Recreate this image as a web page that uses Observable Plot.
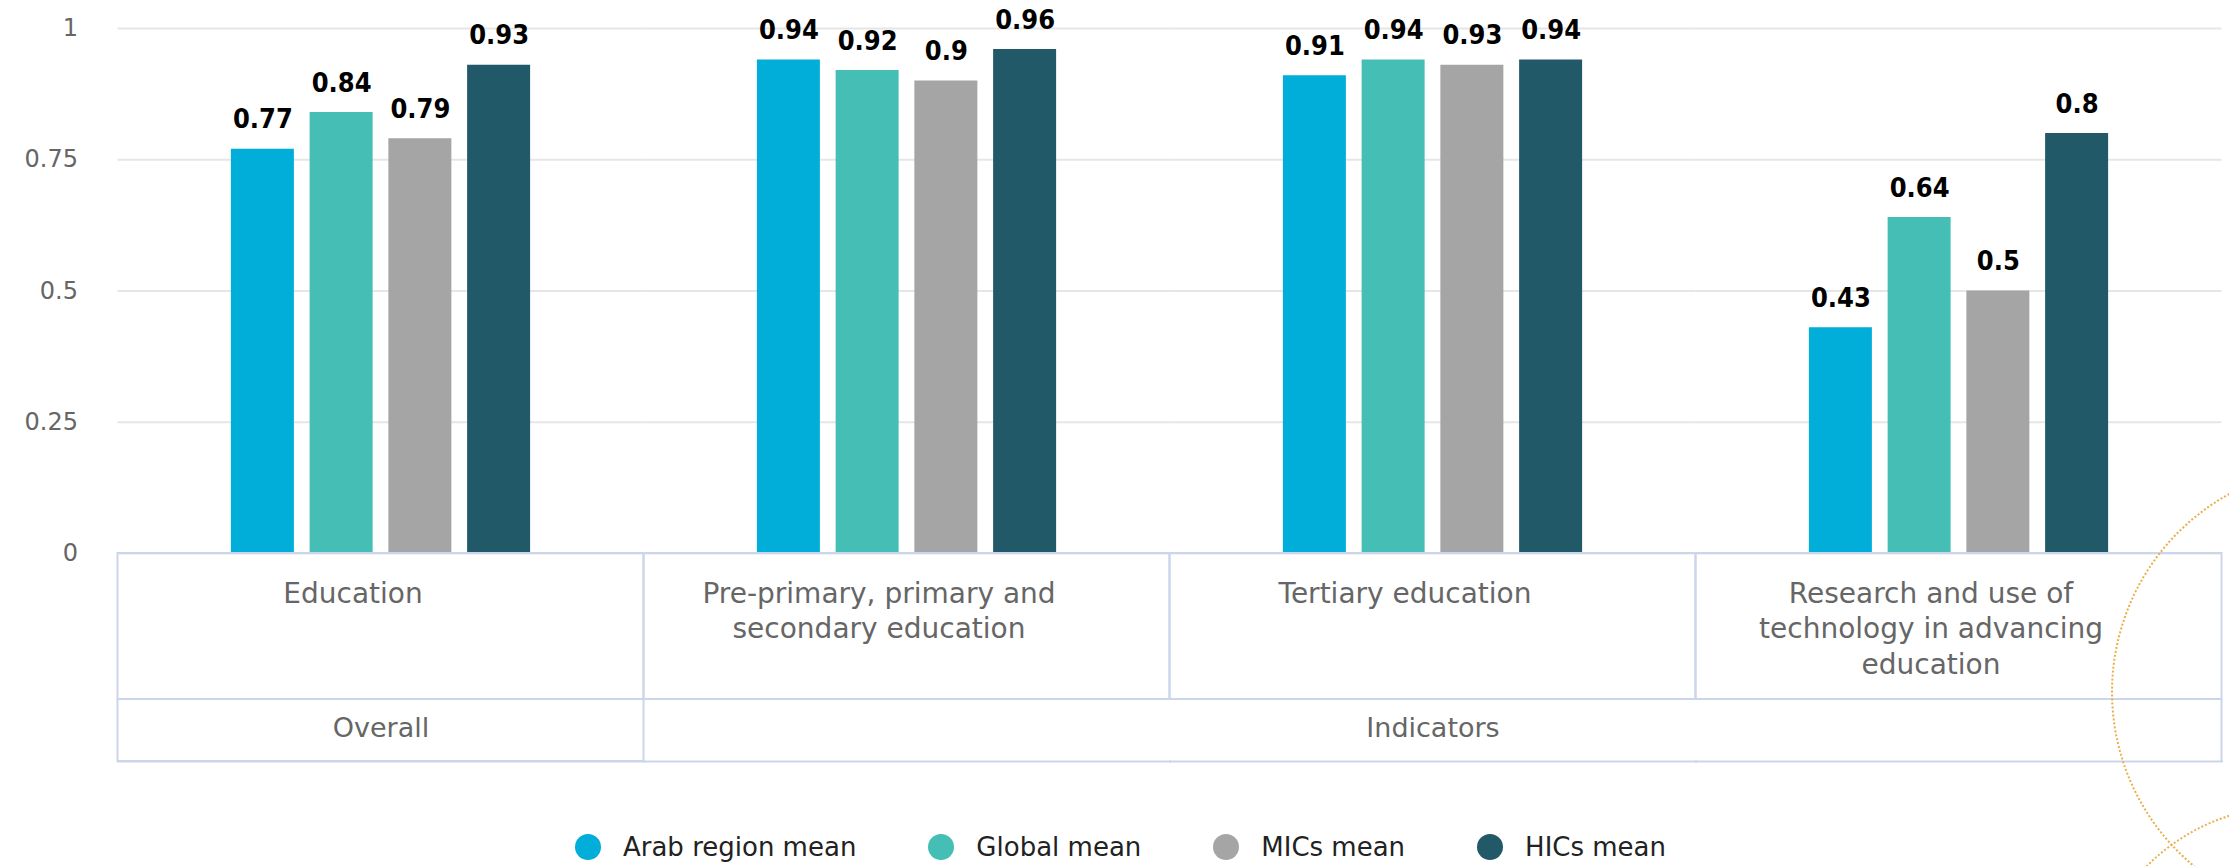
<!DOCTYPE html>
<html>
<head>
<meta charset="utf-8">
<script src="https://cdn.jsdelivr.net/npm/d3@7"></script>
<script src="https://cdn.jsdelivr.net/npm/@observablehq/plot@0.6"></script>
<style>
  html, body { margin: 0; padding: 0; background: #fff; width: 2229px; height: 866px; overflow: hidden; position: relative; }
  #chart svg { display: block; }
  .legend { display: flex; justify-content: center; align-items: center; gap: 72px; margin-top: 31px; height: 32px;
            font-family: "DejaVu Sans"; font-size: 26px; color: #222; padding-left: 12px; }
  .item { display: flex; align-items: center; gap: 22px; white-space: nowrap; }
  .sw { width: 26px; height: 26px; border-radius: 50%; }
  .deco { position: absolute; border: 2px dotted #e8b04a; border-radius: 50%; pointer-events: none; }
</style>
</head>
<body>
<div id="chart"></div>
<div class="legend" id="legend"></div>
<div class="deco" style="left:2111px;top:465px;width:450px;height:450px"></div>
<div class="deco" style="left:2085px;top:805px;width:410px;height:410px"></div>
<script>
// ---- data ----
const categories = [
  "Education",
  "Pre-primary, primary and secondary education",
  "Tertiary education",
  "Research and use of technology in advancing education"
];
const categoryLines = [
  ["Education"],
  ["Pre-primary, primary and", "secondary education"],
  ["Tertiary education"],
  ["Research and use of", "technology in advancing", "education"]
];
const groupLabels = ["Overall", "Indicators"];
const groupAnchorCategory = ["Education", "Tertiary education"];
const series = ["Arab region mean", "Global mean", "MICs mean", "HICs mean"];
const seriesColors = ["#00aed9", "#45bfb5", "#a5a5a5", "#225968"];
const arabValues   = [0.77, 0.94, 0.91, 0.43];
const globalValues = [0.84, 0.92, 0.94, 0.64];
const micsValues   = [0.79, 0.90, 0.93, 0.50];
const hicsValues   = [0.93, 0.96, 0.94, 0.80];
const yTicks = [0, 0.25, 0.5, 0.75, 1];
const yTickLabels = ["0", "0.25", "0.5", "0.75", "1"];

// ---- build table ----
const valuesBySeries = [arabValues, globalValues, micsValues, hicsValues];
const data = categories.flatMap((c, i) =>
  series.map((s, j) => ({category: c, series: s, value: valuesBySeries[j][i]})));
const groupData = groupLabels.map((g, i) => ({label: g, category: groupAnchorCategory[i]}));

// ---- layout ----
const W = 2229, H = 800;
const mL = 117.5, mR = 7.5, mT = 28, base = 553;
const mB = H - base;
const row1 = 146, row2 = 62;           // table row heights
const plotH = base - mT;
const facetW = (W - mL - mR) / categories.length;
const lineColor = "#ccd6eb";

const chart = Plot.plot({
  width: W,
  height: H,
  marginLeft: mL,
  marginRight: mR,
  marginTop: mT,
  marginBottom: mB,
  style: {fontFamily: "DejaVu Sans", background: "transparent", overflow: "visible"},
  fx: {domain: categories, padding: 0, round: false, axis: null},
  x: {domain: series, paddingInner: 0.2, paddingOuter: 1.44, round: false, axis: null},
  y: {domain: [0, 1], label: null},
  color: {domain: series, range: seriesColors},
  marks: [
    Plot.gridY(yTicks, {stroke: "#e6e6e6", strokeOpacity: 1, strokeWidth: 2}),
    Plot.axisY(yTicks, {
      anchor: "left", tickSize: 0, tickPadding: 40, label: null,
      tickFormat: d => yTickLabels[yTicks.indexOf(d)],
      fontSize: 24, fill: "#666"
    }),
    Plot.barY(data, {fx: "category", x: "series", y: "value", fill: "series"}),
    Plot.text(data, {
      fx: "category", x: "series", y: "value",
      text: d => String(d.value),
      lineAnchor: "bottom", dy: -21,
      fontFamily: "DejaVu Sans Condensed", fontWeight: "bold", fontSize: 27, fill: "#000"
    }),
    // table: first row cells
    Plot.rect(categories, {
      fx: d => d, fill: "none", stroke: lineColor, strokeWidth: 2,
      insetTop: plotH, insetBottom: -row1
    }),
    // table: second row, "Overall" cell
    Plot.rect([groupAnchorCategory[0]], {
      fx: d => d, fill: "none", stroke: lineColor, strokeWidth: 2,
      insetTop: plotH + row1, insetBottom: -(row1 + row2)
    }),
    // table: bottom edge of second row
    Plot.frame({anchor: "bottom", stroke: lineColor, strokeWidth: 2, insetBottom: -(row1 + row2)}),
    // table: right edge of second row
    Plot.rect([categories[categories.length - 1]], {
      fx: d => d, fill: lineColor,
      insetTop: plotH + row1, insetBottom: -(row1 + row2),
      insetLeft: facetW - 1, insetRight: -1
    }),
    // category labels
    Plot.text(categories, {
      fx: d => d,
      text: (d, i) => categoryLines[i].join("\n"),
      frameAnchor: "bottom", lineAnchor: "top", dy: 24, dx: -28,
      fontSize: 28, fill: "#666", lineHeight: 1.27
    }),
    // group labels
    Plot.text(groupData, {
      fx: "category", text: "label",
      frameAnchor: "bottom", lineAnchor: "top", dy: 164,
      fontSize: 27, fill: "#666"
    })
  ]
});
document.getElementById("chart").appendChild(chart);

// ---- legend ----
const legend = document.getElementById("legend");
series.forEach((s, i) => {
  const item = document.createElement("div");
  item.className = "item";
  const sw = document.createElement("div");
  sw.className = "sw";
  sw.style.background = seriesColors[i];
  const label = document.createElement("span");
  label.textContent = s;
  item.appendChild(sw);
  item.appendChild(label);
  legend.appendChild(item);
});
</script>
</body>
</html>
